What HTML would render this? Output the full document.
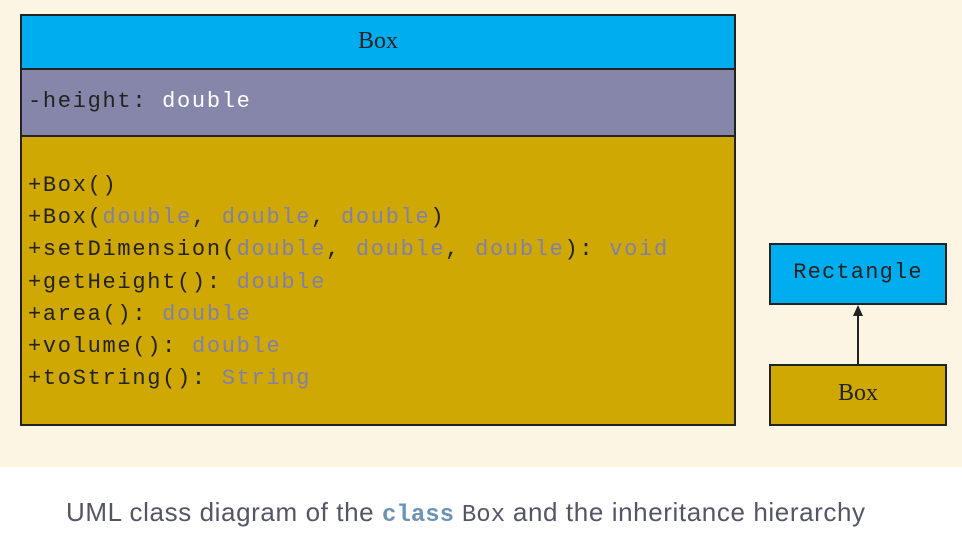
<!DOCTYPE html>
<html><head><meta charset="utf-8"><style>
body{margin:0;width:962px;height:544px;background:#fff;position:relative;overflow:hidden;font-family:"Liberation Mono",monospace}
.bg{position:absolute;left:0;top:0;width:962px;height:467px;background:#fdf5e3}
.b{position:absolute;box-sizing:border-box;border:2px solid #222}
.t{position:absolute;white-space:pre;font-size:22px;letter-spacing:1.7px;color:#222}
.g{color:#8080aa}
</style></head><body>
<div class="bg"></div>
<div class="b" style="left:20px;top:14px;width:716px;height:56px;background:#00aeef"></div>
<div class="b" style="left:20px;top:68px;width:716px;height:69px;background:#8686ab"></div>
<div class="b" style="left:20px;top:135px;width:716px;height:291px;background:#d0a804"></div>
<div style="position:absolute;left:20px;width:716px;top:28px;text-align:center;font-family:'Liberation Serif',serif;font-size:24px;color:#222">Box</div>
<div class="t" style="left:28px;top:89px">-height: <span style="color:#fff">double</span></div>
<div class="t" style="left:28px;top:170px;line-height:32.2px">+Box()
+Box(<span class="g">double</span>, <span class="g">double</span>, <span class="g">double</span>)
+setDimension(<span class="g">double</span>, <span class="g">double</span>, <span class="g">double</span>): <span class="g">void</span>
+getHeight(): <span class="g">double</span>
+area(): <span class="g">double</span>
+volume(): <span class="g">double</span>
+toString(): <span class="g">String</span></div>
<div class="b" style="left:769px;top:243px;width:178px;height:62px;background:#00aeef"></div>
<div class="t" style="left:769px;width:178px;text-align:center;top:260px;letter-spacing:1.2px">Rectangle</div>
<div class="b" style="left:769px;top:364px;width:178px;height:62px;background:#d0a804"></div>
<div style="position:absolute;left:769px;width:178px;text-align:center;top:380px;font-family:'Liberation Serif',serif;font-size:24px;color:#222">Box</div>
<svg style="position:absolute;left:0;top:0" width="962" height="544"><line x1="858" y1="364" x2="858" y2="312" stroke="#222" stroke-width="2"/><polygon points="858,305 853,316 863,316" fill="#222"/></svg>
<div style="position:absolute;left:66px;top:497px;font-family:'Liberation Sans Narrow','Liberation Sans',sans-serif;font-size:26px;letter-spacing:0.6px;color:#555566;white-space:nowrap">UML class diagram of the <b style="font-family:'Liberation Mono',monospace;color:#6c93b5;font-size:24px;letter-spacing:0">class</b> <span style="font-family:'Liberation Mono',monospace;font-size:24px;letter-spacing:0">Box</span> and the inheritance hierarchy</div>
</body></html>
